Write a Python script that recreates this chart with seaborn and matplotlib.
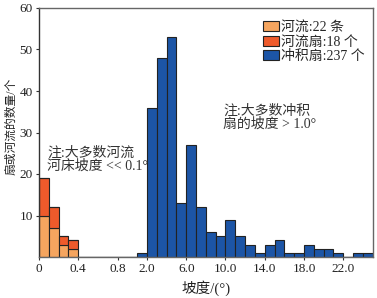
import numpy as np
import pandas as pd
import matplotlib
matplotlib.use("Agg")
import matplotlib.pyplot as plt
from matplotlib.patches import Patch
import seaborn as sns

# ---- data (bin lower edges in degrees, counts per bin) ----
river_edges = [0.0, 0.1, 0.2, 0.3]
river_counts = [10, 7, 3, 2]
fan_edges = [0.0, 0.1, 0.2, 0.3]
fan_counts = [9, 5, 2, 2]
alluvial_edges = [1, 2, 3, 4, 5, 6, 7, 8, 9, 10, 11, 12, 13, 14, 15, 16,
                  17, 18, 19, 20, 21, 22, 23, 24]
alluvial_counts = [1, 36, 48, 53, 13, 27, 12, 6, 5, 9, 5, 3, 1, 3, 4, 1,
                   1, 3, 2, 2, 1, 0, 1, 1]
fine_bin_edges = [0.0, 0.1, 0.2, 0.3, 0.4, 0.5, 0.6, 0.7, 0.8, 0.9, 1.0]
coarse_bin_edges = [2, 3, 4, 5, 6, 7, 8, 9, 10, 11, 12, 13, 14, 15, 16,
                    17, 18, 19, 20, 21, 22, 23, 24, 25]
xtick_values = [0, 0.4, 0.8, 2, 6, 10, 14, 18, 22]
xtick_labels = ["0", "0.4", "0.8", "2.0", "6.0", "10.0", "14.0", "18.0", "22.0"]
ytick_values = [10, 20, 30, 40, 50, 60]
labels = ["河流:22 条", "河流扇:18 个", "冲积扇:237 个"]
colors = ["#F5A55F", "#EE5A2B", "#1C55A6"]


def fwd(x):
    x = np.asarray(x, dtype=float)
    return np.where(x <= 1, x * 10, x + 9)


def inv(y):
    y = np.asarray(y, dtype=float)
    return np.where(y <= 10, y / 10, y - 9)


# seaborn bins in the scale's transformed space
bin_edges = [float(e) for e in fwd(fine_bin_edges + coarse_bin_edges)]


def mid(edges, width):
    return [e + width / 2 for e in edges]


df = pd.concat([
    pd.DataFrame({"slope": mid(river_edges, 0.1), "count": river_counts, "kind": "river"}),
    pd.DataFrame({"slope": mid(fan_edges, 0.1), "count": fan_counts, "kind": "fan"}),
    pd.DataFrame({"slope": mid(alluvial_edges, 1.0), "count": alluvial_counts, "kind": "alluvial"}),
], ignore_index=True)

sns.set_style("ticks")
plt.rcParams["font.family"] = ["Liberation Serif", "Noto Sans CJK SC"]
plt.rcParams["axes.unicode_minus"] = False

fig = plt.figure(figsize=(3.77, 2.98), dpi=100)
ax = fig.add_axes([39 / 377, 41 / 298, 333.7 / 377, 249 / 298])
ax.set_xscale("function", functions=(fwd, inv))

sns.histplot(data=df, x="slope", weights="count", hue="kind",
             hue_order=["alluvial", "fan", "river"],
             palette={"river": colors[0], "fan": colors[1], "alluvial": colors[2]},
             multiple="stack", bins=bin_edges, element="bars",
             edgecolor="#222222", linewidth=0.8, alpha=1, legend=False, ax=ax)

ax.set_xlim(0, 25)
ax.set_ylim(0, 60)
ax.set_xticks(xtick_values)
ax.set_xticklabels(xtick_labels)
ax.xaxis.set_minor_locator(matplotlib.ticker.NullLocator())
ax.set_yticks(ytick_values)
ax.tick_params(axis="both", labelsize=9.5, length=2.5, width=0.8,
               colors="#333333", labelcolor="#222222", pad=2)

for side in ["top", "right", "bottom"]:
    ax.spines[side].set_visible(True)
    ax.spines[side].set_color("#666666")
    ax.spines[side].set_linewidth(1.0)
ax.spines["left"].set_color("#333333")
ax.spines["left"].set_linewidth(1.0)

ax.set_xlabel("坡度/(°)", fontsize=10.5, color="#222222")
ax.set_ylabel("扇或河流的数量/个", fontsize=8.5, color="#222222")
ax.yaxis.set_label_coords(-0.066, 0.524)
ax.xaxis.set_label_coords(0.5, -0.092)

handles = [Patch(facecolor=c, edgecolor="#222222", linewidth=0.8) for c in colors]
ax.legend(handles, labels, loc="upper right", bbox_to_anchor=(0.985, 0.958),
          frameon=False, fontsize=10, handlelength=1.2, handleheight=0.75,
          handletextpad=0.15, labelspacing=0.1, borderaxespad=0, borderpad=0.2)

ax.text(0.024, 0.445, "注:大多数河流\n河床坡度 << 0.1°", transform=ax.transAxes,
        ha="left", va="top", fontsize=10, color="#333333", linespacing=1.0)
ax.text(0.552, 0.612, "注:大多数冲积\n扇的坡度 > 1.0°", transform=ax.transAxes,
        ha="left", va="top", fontsize=10, color="#333333", linespacing=1.0)

fig.savefig("out.png", dpi=100)
